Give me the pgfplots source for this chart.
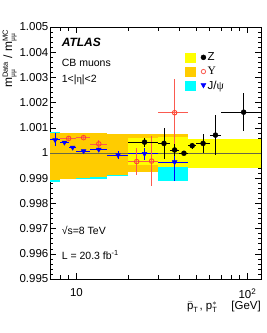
\documentclass[border=0pt]{standalone}
\usepackage{fontspec}
\setmainfont{Liberation Sans}
\newfontfamily\grk{Liberation Serif}
\usepackage{pgfplots}
\pgfplotsset{compat=1.18}
\definecolor{bandZ}{RGB}{255,255,0}
\definecolor{bandY}{RGB}{255,204,0}
\definecolor{bandJ}{RGB}{0,255,255}
\definecolor{unitline}{RGB}{105,105,70}
\definecolor{ups}{RGB}{255,70,45}
\definecolor{upsline}{RGB}{250,90,80}
\pgfplotsset{
  binJ/.style={fill=bandJ, draw=none, forget plot},
  binY/.style={fill=bandY, draw=none, forget plot},
  binZ/.style={fill=bandZ, draw=none, forget plot},
}
\begin{document}
\begin{tikzpicture}
\useasboundingbox (0,0) rectangle (266pt,333pt);
\begin{axis}[
  at={(50pt,54pt)}, anchor=south west,
  scale only axis, width=211pt, height=252pt,
  xmode=log, xmin=7, xmax=120, ymin=0.995, ymax=1.005,
  xtick={10,100}, xticklabels={10,10\textsuperscript{2}\hspace{10pt}},
  minor xtick={7,8,9,20,30,40,50,60,70,80,90},
  ytick={0.995,0.996,0.997,0.998,0.999,1,1.001,1.002,1.003,1.004,1.005},
  yticklabels={0.995,0.996,0.997,0.998,0.999,1,1.001,1.002,1.003,1.004,1.005},
  minor y tick num=4,
  major tick length=6pt, minor tick length=3.5pt,
  tick style={black, line width=0.5pt},
  tick label style={font=\fontsize{11.5}{12}\selectfont},
  yticklabel style={inner sep=1.5pt},
  xticklabel style={yshift=-6pt},
  axis line style={line width=0.6pt},
  ylabel={\fontsize{12}{13}\selectfont $\hbox{m}^{\hbox{\fontsize{7.5}{8}\selectfont Data}}_{\hbox{\fontsize{7.5}{8}\selectfont\grk μμ}}$ / $\hbox{m}^{\hbox{\fontsize{7.5}{8}\selectfont MC}}_{\hbox{\fontsize{7.5}{8}\selectfont\grk μμ}}$},
  ylabel style={at={([xshift=-33pt,yshift=-2pt]rel axis cs:0,1)}, anchor=south east, inner sep=0pt},
  xlabel={\fontsize{11.5}{12}\selectfont $\bar{\hbox{p}}_{\hbox{\fontsize{7.5}{8}\selectfont T}}$\kern1pt, $\hbox{p}^{*}_{\hbox{\fontsize{7.5}{8}\selectfont T}}$\hspace{14pt}[GeV]},
  xlabel style={at={([yshift=-22pt]rel axis cs:1,0)}, anchor=north east, inner sep=0pt},
  legend style={at={(rel axis cs:0.64,0.905)}, anchor=north west, draw=none, fill=none,
    font=\fontsize{11.5}{13}\selectfont, row sep=2pt, inner sep=0pt, nodes={inner sep=1.5pt}},
  legend cell align=left,
]
\addlegendimage{legend image code/.code={\fill[bandZ] (0pt,-4.5pt) rectangle (10pt,4.5pt); \fill[black] (18pt,0pt) circle (2.5pt);}}
\addlegendimage{legend image code/.code={\fill[bandY] (0pt,-4.5pt) rectangle (10pt,4.5pt); \draw[upsline, line width=0.8pt] (18pt,0pt) circle (2.2pt);}}
\addlegendimage{legend image code/.code={\fill[bandJ] (0pt,-4.5pt) rectangle (10pt,4.5pt); \fill[blue] (15.5pt,2.5pt) -- (20.5pt,2.5pt) -- (18pt,-2pt) -- cycle;}}
\legend{Z,{\grk Υ},J/{\grk ψ}}

% J/psi band (per bin)
\addplot[binJ] coordinates {(7,0.99886) (8,0.99886) (8,1.00085) (7,1.00085)} --cycle;
\addplot[binJ] coordinates {(8,0.99895) (15,0.99895) (15,1.0007) (8,1.0007)} --cycle;
\addplot[binJ] coordinates {(15,0.9991) (20,0.9991) (20,1.0007) (15,1.0007)} --cycle;
\addplot[binJ] coordinates {(20,0.9993) (30,0.9993) (30,1.0006) (20,1.0006)} --cycle;
\addplot[binJ] coordinates {(30,0.99887) (45,0.99887) (45,1.0006) (30,1.0006)} --cycle;
% Upsilon band (per bin)
\addplot[binY] coordinates {(7,0.99893) (8,0.99893) (8,1.00079) (7,1.00079)} --cycle;
\addplot[binY] coordinates {(8,0.99897) (10,0.99897) (10,1.00079) (8,1.00079)} --cycle;
\addplot[binY] coordinates {(10,0.99902) (12,0.99902) (12,1.00079) (10,1.00079)} --cycle;
\addplot[binY] coordinates {(12,0.99906) (15,0.99906) (15,1.00079) (12,1.00079)} --cycle;
\addplot[binY] coordinates {(15,0.99913) (20,0.99913) (20,1.00074) (15,1.00074)} --cycle;
\addplot[binY] coordinates {(20,0.99923) (30,0.99923) (30,1.00075) (20,1.00075)} --cycle;
\addplot[binY] coordinates {(30,0.9995) (45,0.9995) (45,1.00075) (30,1.00075)} --cycle;
% Z band (per bin)
\addplot[binZ] coordinates {(20,0.99952) (30,0.99952) (30,1.00058) (20,1.00058)} --cycle;
\addplot[binZ] coordinates {(30,0.99946) (45,0.99946) (45,1.00063) (30,1.00063)} --cycle;
\addplot[binZ] coordinates {(45,0.99939) (120,0.99939) (120,1.00054) (45,1.00054)} --cycle;
% unity line
\addplot[unitline, line width=0.7pt, forget plot] coordinates {(7,1) (120,1)};

% J/psi
\addplot[blue, only marks, mark=triangle*, mark size=2.8pt, mark options={rotate=180}, forget plot,
  error bars/.cd, x dir=both, x explicit, y dir=both, y explicit, error mark=none,
  error bar style={line width=0.8pt, blue}]
 table[x=x, y=y, x error=ex, y error=ey] {
 x y ex ey
 7.5 1.00052 0.5 0.00026
 8.5 1.00042 0.5 0.00005
 9.5 1.00022 0.5 0.00006
 11 1.00008 1 0.00004
 13.5 1.00014 1.5 0.00008
 17.5 0.99992 2.5 0.00017
 25 0.99997 5 0.00023
 37.5 0.99964 7.5 0.00075
 };
% Upsilon
\addplot[ups, only marks, mark=o, mark size=2.3pt, mark options={line width=0.9pt}, forget plot,
  error bars/.cd, x dir=both, x explicit, y dir=both, y explicit, error mark=none,
  error bar style={line width=0.8pt, upsline}]
 table[x=x, y=y, x error=ex, y error=ey] {
 x y ex ey
 9 1.00058 1 0.00008
 11 1.00061 1 0.00006
 13.5 1.00036 1.5 0.00015
 22.5 0.99966 2.5 0.00053
 27.5 0.99968 2.5 0.00100
 37.5 1.00160 7.5 0.00134
 };
% Z
\addplot[black, only marks, mark=*, mark size=2.5pt, forget plot,
  error bars/.cd, x dir=both, x explicit, y dir=both, y explicit, error mark=none,
  error bar style={line width=0.8pt, black}]
 table[x=x, y=y, x error=ex, y error=ey] {
 x y ex ey
 25 1.00043 5 0.00018
 32.5 1.00038 2.5 0.00060
 37.5 1.00012 2.5 0.00025
 42.5 0.99999 2.5 0.00005
 47.5 1.00029 2.5 0.00012
 55 1.00038 5 0.00038
 65 1.00071 5 0.00080
 95 1.00162 25 0.00075
 };

\node[anchor=west, inner sep=0pt, font=\fontsize{12}{14}\selectfont\bfseries\itshape] at (rel axis cs:0.055,0.938) {ATLAS};
\node[anchor=west, inner sep=0pt, font=\fontsize{10.5}{12}\selectfont] at (rel axis cs:0.055,0.859) {CB muons};
\node[anchor=west, inner sep=0pt, font=\fontsize{10.5}{12}\selectfont] at (rel axis cs:0.055,0.790) {1<|{\grk η}|<2};
\node[anchor=west, inner sep=0pt, font=\fontsize{10.5}{12}\selectfont] at (rel axis cs:0.055,0.194) {√s=8 TeV};
\node[anchor=west, inner sep=0pt, font=\fontsize{10.5}{12}\selectfont] at (rel axis cs:0.055,0.095) {L = 20.3 fb\textsuperscript{-1}};
\end{axis}
\end{tikzpicture}
\end{document}
